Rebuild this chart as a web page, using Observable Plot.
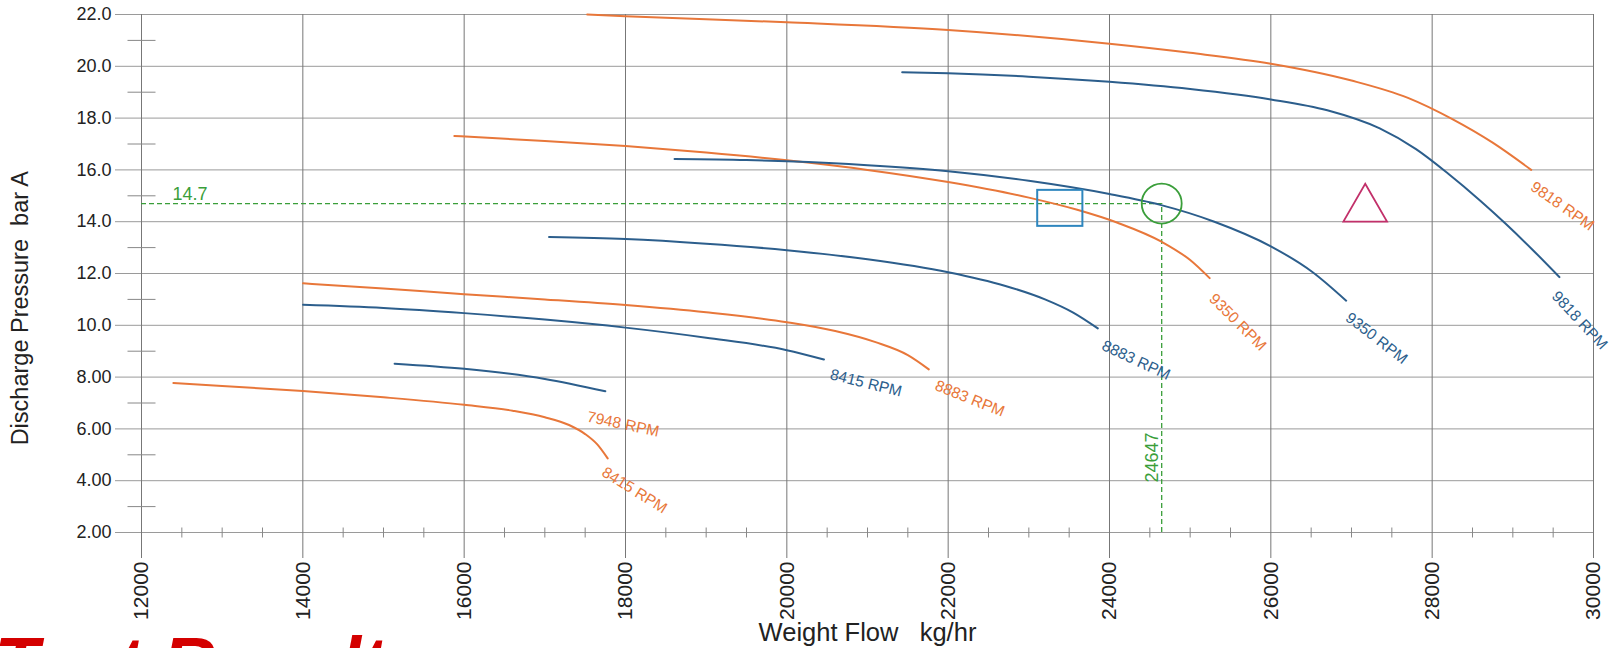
<!DOCTYPE html>
<html><head><meta charset="utf-8">
<script src="https://cdn.jsdelivr.net/npm/d3@7"></script>
<script src="https://cdn.jsdelivr.net/npm/@observablehq/plot@0.6"></script>
<style>
html,body{margin:0;padding:0;background:#fff;overflow:hidden}
#chart svg{display:block}
#chart text{white-space:pre}
</style></head><body><div id="chart"></div>
<script>
// ---- axes ----
const xTicks = [12000,14000,16000,18000,20000,22000,24000,26000,28000,30000];
const xMinorTicks = [12500,13000,13500,14500,15000,15500,16500,17000,17500,18500,19000,19500,20500,21000,21500,22500,23000,23500,24500,25000,25500,26500,27000,27500,28500,29000,29500];
const yTicks = [2,4,6,8,10,12,14,16,18,20,22];
const yTickLabels = ["2.00","4.00","6.00","8.00","10.0","12.0","14.0","16.0","18.0","20.0","22.0"];
const yMinorTicks = [3,5,7,9,11,13,15,17,19,21];
const xTitle = "Weight Flow   kg/hr";
const yTitle = "Discharge Pressure  bar A";
const caption = "Test Result";

// ---- curves: [flow kg/hr, pressure bar A] ----
const curveNames = ["A 9818","A 9350","A 8883","A 8415","B 9818","B 9350","B 8883","B 8415","B 7948"];
const curveSets  = ["A","A","A","A","B","B","B","B","B"];
const curveA9818 = [[17525,22.0],[18000,21.93],[20000,21.7],[22000,21.4],[24000,20.87],[25000,20.52],[26000,20.1],[27000,19.45],[27700,18.78],[28256,17.95],[28750,17.05],[29228,16.0]];
const curveA9350 = [[15878,17.31],[17000,17.12],[18000,16.92],[19000,16.67],[20000,16.37],[21000,16.0],[22000,15.53],[23000,14.93],[23600,14.46],[24100,13.96],[24650,13.22],[25000,12.52],[25242,11.82]];
const curveA8883 = [[14003,11.62],[15000,11.42],[16000,11.2],[17000,11.0],[18000,10.78],[19000,10.5],[20000,10.12],[20600,9.78],[21100,9.35],[21500,8.85],[21760,8.3]];
const curveA8415 = [[12395,7.77],[13000,7.66],[14000,7.46],[15000,7.22],[16000,6.93],[16600,6.7],[17000,6.45],[17300,6.15],[17500,5.8],[17650,5.4],[17779,4.86]];
const curveB9818 = [[21430,19.77],[22000,19.73],[23000,19.6],[24000,19.4],[25000,19.12],[26000,18.72],[26700,18.3],[27350,17.6],[27800,16.8],[28200,15.85],[28600,14.8],[28918,13.9],[29250,12.9],[29578,11.86]];
const curveB9350 = [[18608,16.42],[19500,16.38],[20000,16.33],[21000,16.18],[22000,15.95],[23000,15.58],[24000,15.07],[24630,14.65],[25300,14.0],[26000,13.05],[26519,12.05],[26934,10.95]];
const curveB8883 = [[17052,13.41],[18000,13.33],[19000,13.15],[20000,12.9],[21000,12.55],[22000,12.05],[22700,11.53],[23200,11.0],[23550,10.49],[23855,9.88]];
const curveB8415 = [[14003,10.79],[15000,10.67],[16000,10.47],[17000,10.22],[18000,9.91],[19000,9.52],[20000,9.04],[20460,8.68]];
const curveB7948 = [[15138,8.52],[16000,8.32],[17000,7.93],[17750,7.45]];
const curvePoints = [curveA9818,curveA9350,curveA8883,curveA8415,curveB9818,curveB9350,curveB8883,curveB8415,curveB7948];

// ---- curve labels ----
const labelText     = ["9818 RPM","9818 RPM","9350 RPM","9350 RPM","8883 RPM","8883 RPM","8415 RPM","8415 RPM","7948 RPM"];
const labelSet      = ["A","B","A","B","B","A","B","A","A"];
const labelFlow     = [29615,29828,25590,27310,24330,22269,20981,18111,17970];
const labelPressure = [14.6,10.19,10.12,9.5,8.65,7.17,7.77,3.63,6.18];
const labelAngle    = [35,47,45,38,25,22,14,32,12];

// ---- test point & markers ----
const testFlow = 24647;
const testPressure = 14.7;
const squareMarker = {x1: 23110, x2: 23670, y1: 13.82, y2: 15.21};
const triangleMarker = {flow: 27170, pressure: 14.49};
const yTitlePressure = 10.66;

// ---- build tables ----
const curveRows = curvePoints.flatMap((pts, i) => pts.map(([flow, pressure]) => ({name: curveNames[i], set: curveSets[i], flow, pressure})));
const labelRows = labelText.map((t, i) => ({text: t, set: labelSet[i], flow: labelFlow[i], pressure: labelPressure[i], angle: labelAngle[i]}));

const ORANGE = "#E8773A", BLUE = "#2C5E8C", GREEN = "#3A9E3A";
const hTick = {draw(ctx) { ctx.moveTo(-14, 0); ctx.lineTo(14, 0); }};
const vTick = {draw(ctx) { ctx.moveTo(0, -5); ctx.lineTo(0, 5); }};
const FONT = "'Liberation Sans', Arial, Helvetica, sans-serif";

const chart = Plot.plot({
  width: 1614, height: 648,
  marginTop: 14, marginBottom: 116, marginLeft: 141, marginRight: 21,
  style: {fontFamily: FONT, background: "#fff", color: "#222"},
  x: {domain: [12000, 30000]},
  y: {domain: [2, 22]},
  color: {domain: ["A", "B"], range: [ORANGE, BLUE]},
  marks: [
    Plot.gridY(yTicks, {stroke: "#9a9a9a", strokeOpacity: 1, strokeWidth: 1}),
    Plot.gridX(xTicks, {stroke: "#777", strokeOpacity: 1, strokeWidth: 1}),
    Plot.axisY(yTicks, {anchor: "left", tickSize: 26, tickPadding: 4, stroke: "#9a9a9a", fontSize: 18, fill: "#222",
      tickFormat: d => yTickLabels[yTicks.indexOf(d)], label: null}),
    Plot.axisX(xTicks, {anchor: "bottom", tickSize: 26, tickPadding: 3, tickRotate: -90, stroke: "#777", fontSize: 21, fill: "#222",
      tickFormat: d => String(d), label: null}),
    Plot.dot(yMinorTicks, {y: d => d, frameAnchor: "left", symbol: hTick, stroke: "#888", strokeWidth: 1}),
    Plot.dot(xMinorTicks, {x: d => d, frameAnchor: "bottom", symbol: vTick, stroke: "#888", strokeWidth: 1}),
    // test point guide lines
    Plot.ruleY([testPressure], {x1: 12000, x2: testFlow, stroke: GREEN, strokeWidth: 1.3, strokeDasharray: "5,3"}),
    Plot.ruleX([testFlow], {y1: 2, y2: testPressure, stroke: GREEN, strokeWidth: 1.3, strokeDasharray: "5,3"}),
    // curves
    Plot.line(curveRows, {x: "flow", y: "pressure", z: "name", stroke: "set", strokeWidth: 2, curve: "monotone-x"}),
    Plot.text(labelRows, {x: "flow", y: "pressure", text: "text", rotate: "angle", fill: "set", fontSize: 15.5, textAnchor: "middle", lineAnchor: "middle"}),
    // markers
    Plot.rect([squareMarker], {x1: "x1", x2: "x2", y1: "y1", y2: "y2", stroke: "#2E86BE", strokeWidth: 2, fill: "none"}),
    Plot.dot([{flow: testFlow, pressure: testPressure}], {x: "flow", y: "pressure", r: 20, stroke: GREEN, strokeWidth: 1.8, fill: "none"}),
    Plot.dot([triangleMarker], {x: "flow", y: "pressure", symbol: "triangle", r: 16.2, stroke: "#C2306A", strokeWidth: 1.8, fill: "none"}),
    // test value labels
    Plot.text([testPressure], {x: 12000, y: d => d, text: d => d.toFixed(1), dx: 31, dy: -9, textAnchor: "start", fill: GREEN, fontSize: 18, stroke: "#fff", strokeWidth: 3, paintOrder: "stroke"}),
    Plot.text([testFlow], {x: d => d, y: 4.9, text: d => String(d), rotate: -90, dx: -9, textAnchor: "middle", fill: GREEN, fontSize: 18}),
    // axis titles
    Plot.text([yTitle], {y: () => yTitlePressure, frameAnchor: "left", dx: -121, rotate: -90, textAnchor: "middle", fontSize: 23.5, fill: "#222"}),
    Plot.text([xTitle], {frameAnchor: "bottom", dy: 108, textAnchor: "middle", lineAnchor: "bottom", fontSize: 25.5, fill: "#222"}),
    // caption
    Plot.text([caption], {frameAnchor: "bottom-left", dx: -147, dy: 155, textAnchor: "start", lineAnchor: "bottom", fontSize: 73, fontWeight: "bold", fontStyle: "italic", fill: "#D40000"})
  ]
});
document.getElementById("chart").append(chart);
</script></body></html>
